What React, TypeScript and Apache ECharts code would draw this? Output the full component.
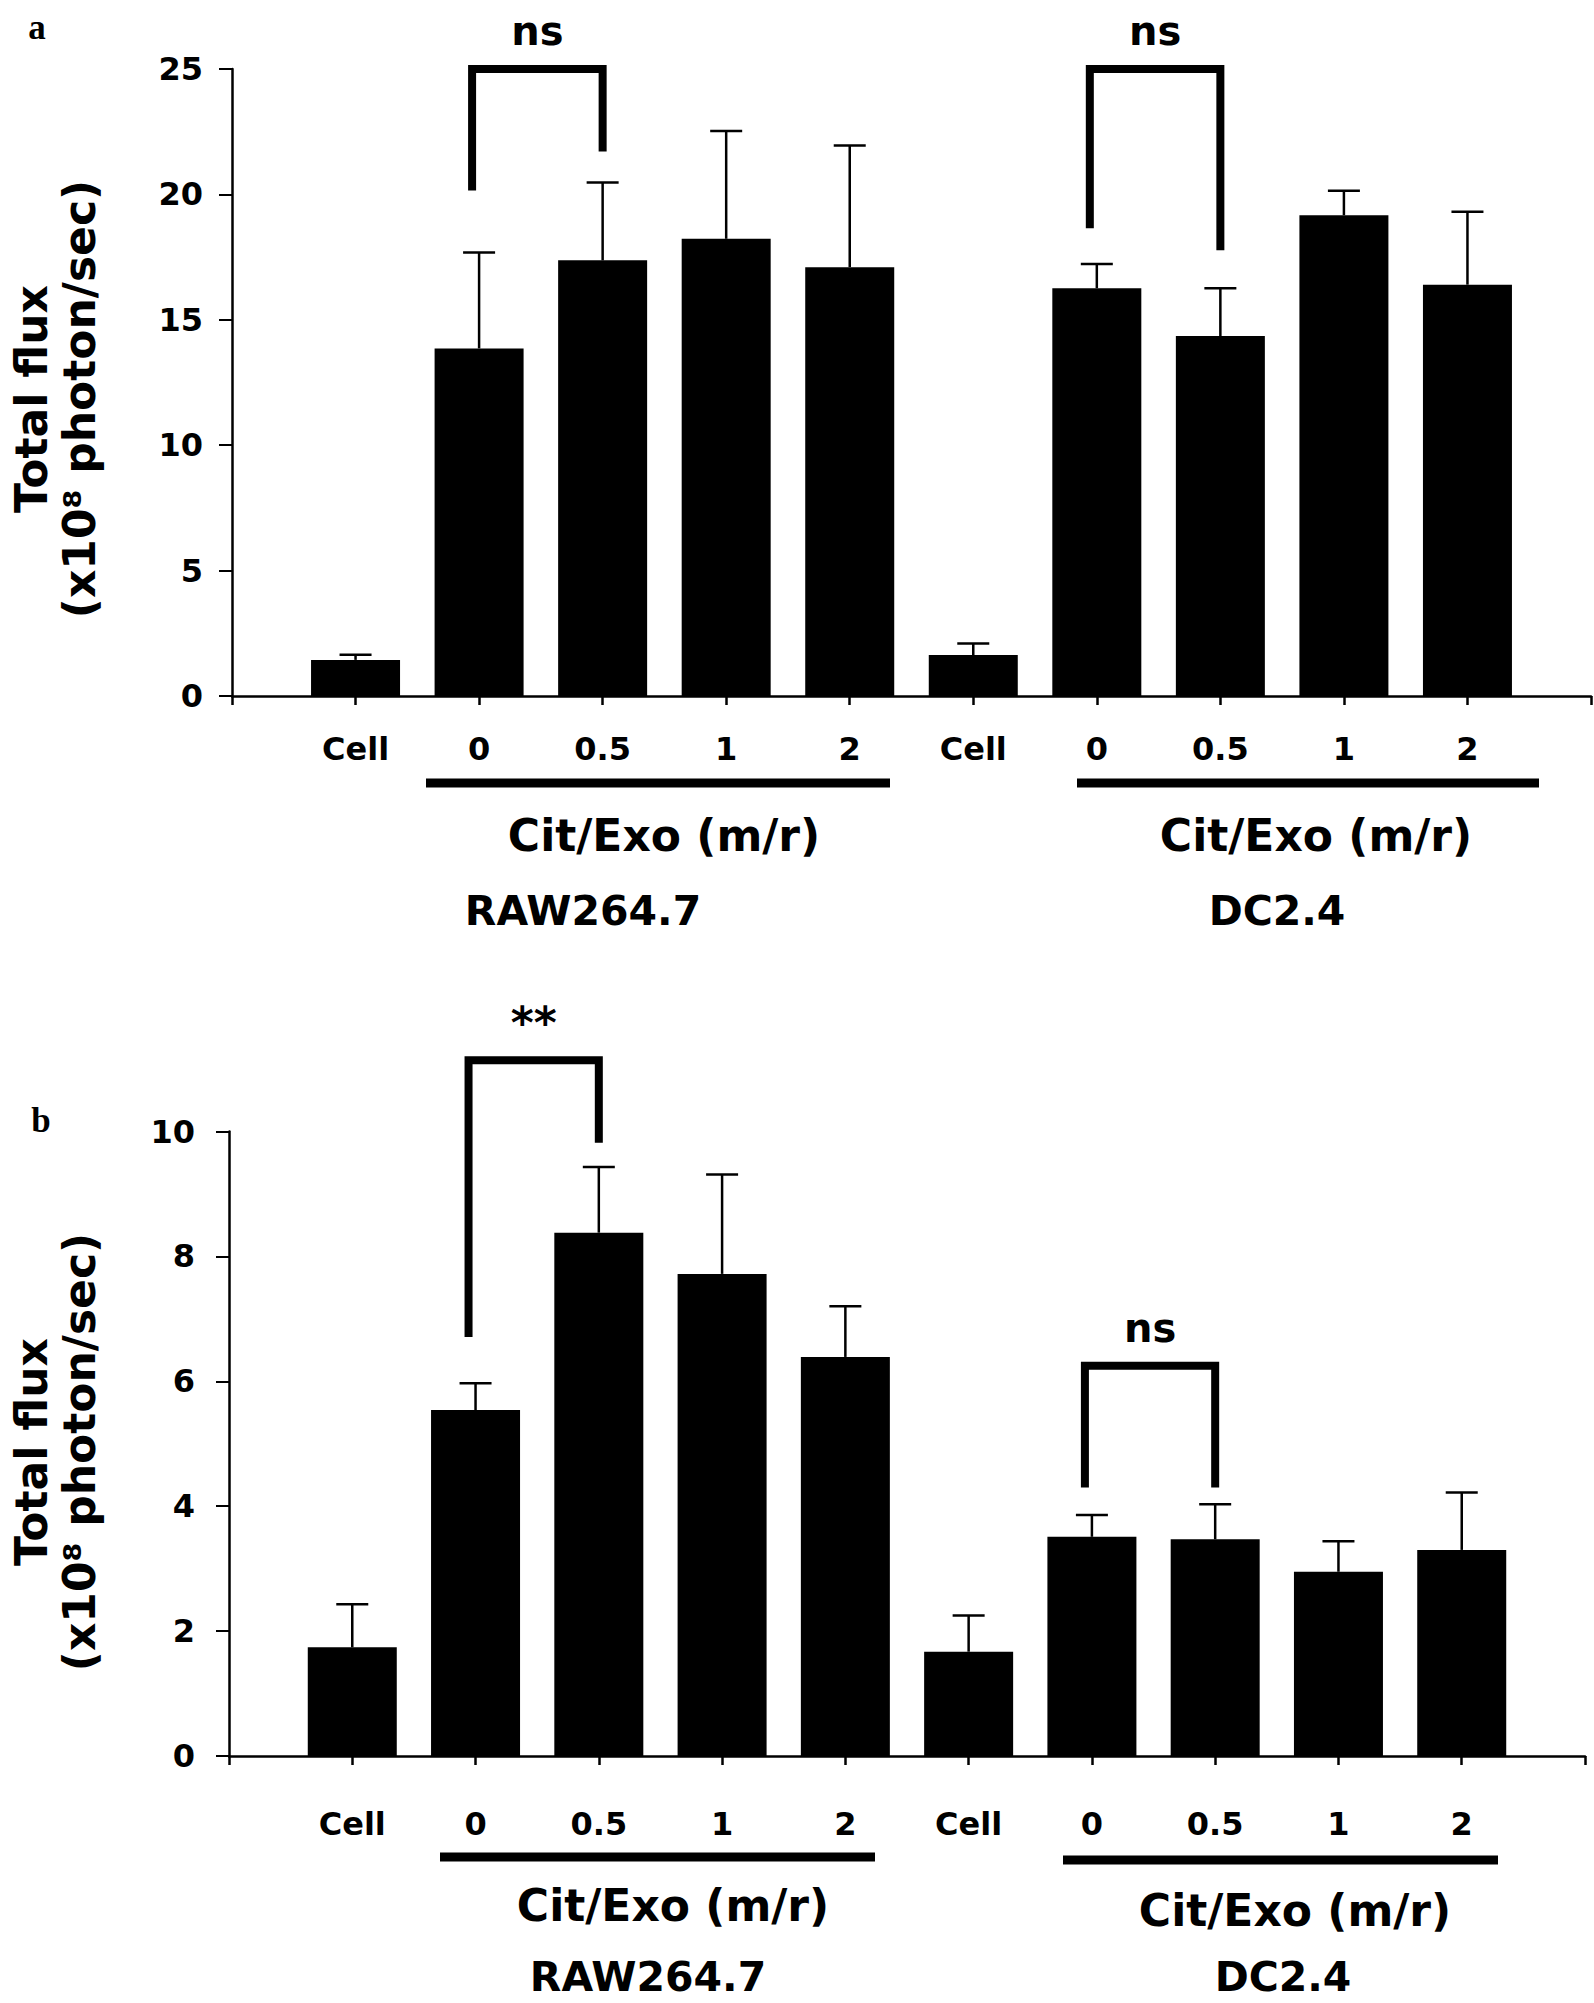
import { useEffect, useRef } from 'react';
import * as echarts from 'echarts';

const FONT = "'DejaVu Sans', Verdana, sans-serif";
const SERIF = "'Liberation Serif', 'Times New Roman', serif";

// x categories (empty slots at both ends of the axis)
const categories = ['', 'Cell', '0', '0.5', '1', '2', 'Cell', '0', '0.5', '1', '2', ''];

// Panel a: total flux (x10^8 photon/sec), mean and SD
const fluxA = [1.44, 13.86, 17.37, 18.23, 17.1, 1.63, 16.26, 14.35, 19.17, 16.4];
const sdA = [0.2, 3.82, 3.1, 4.3, 4.85, 0.46, 0.96, 1.91, 0.98, 2.91];

// Panel b
const fluxB = [1.74, 5.54, 8.38, 7.72, 6.39, 1.67, 3.51, 3.47, 2.95, 3.3];
const sdB = [0.69, 0.43, 1.05, 1.59, 0.81, 0.58, 0.35, 0.56, 0.49, 0.92];

// significance brackets: [fromIdx, toIdx, leftBottom, rightBottom, top]
const bracketsA = [
  [2, 3, 20.16, 21.71, 25.0],
  [7, 8, 18.65, 17.77, 25.0],
];
const bracketLabelsA = ['ns', 'ns'];
const bracketsB = [
  [2, 3, 6.71, 9.82, 11.14],
  [7, 8, 4.3, 4.3, 6.25],
];
const bracketLabelsB = ['**', 'ns'];

const yAxisTitle = 'Total flux\n(x10⁸ photon/sec)';
const treatmentLabel = 'Cit/Exo (m/r)';
const cellLines = ['RAW264.7', 'DC2.4'];

function barData(vals: number[]) {
  return [null, ...vals, null];
}
function errData(vals: number[], sds: number[]) {
  return vals.map((v, i) => [i + 1, v, sds[i]]);
}

function errRender(_p: any, api: any) {
  const x = api.value(0);
  const m = api.value(1);
  const sd = api.value(2);
  const p0 = api.coord([x, m]);
  const p1 = api.coord([x, m + sd]);
  const st = { stroke: '#000', lineWidth: 2.5 };
  return {
    type: 'group',
    children: [
      { type: 'line', shape: { x1: p0[0], y1: p0[1], x2: p1[0], y2: p1[1] }, style: st },
      { type: 'line', shape: { x1: p1[0] - 16, y1: p1[1], x2: p1[0] + 16, y2: p1[1] }, style: st },
    ],
  };
}

function bracketRender(labels: string[]) {
  return (params: any, api: any) => {
    const a = api.value(0);
    const b = api.value(1);
    const lb = api.value(2);
    const rb = api.value(3);
    const top = api.value(4);
    const pl = api.coord([a, lb]);
    const pr = api.coord([b, rb]);
    const pt = api.coord([a, top]);
    const lx = pl[0] - 7;
    const rx = pr[0];
    const label = labels[params.dataIndex];
    return {
      type: 'group',
      children: [
        {
          type: 'polyline',
          shape: { points: [[lx, pl[1]], [lx, pt[1]], [rx, pt[1]], [rx, pr[1]]] },
          style: { stroke: '#000', lineWidth: 8, fill: null, lineJoin: 'miter', lineCap: 'butt' },
        },
        {
          type: 'text',
          x: (lx + rx) / 2,
          y: pt[1] - 38,
          style: {
            text: label,
            align: 'center',
            verticalAlign: 'middle',
            fontSize: label === '**' ? 44 : 40,
            fontWeight: 'bold',
            fontFamily: FONT,
            fill: '#000',
          },
        },
      ],
    };
  };
}

function xAxisCfg(gridIndex: number, margin: number) {
  return {
    type: 'category',
    gridIndex,
    data: categories,
    boundaryGap: false,
    axisLine: { lineStyle: { color: '#000', width: 2.5 } },
    axisTick: { show: true, interval: 0, length: 9, lineStyle: { color: '#000', width: 2.5 } },
    axisLabel: {
      interval: 0,
      margin,
      color: '#000',
      fontSize: 32,
      fontWeight: 'bold',
      fontFamily: FONT,
    },
    splitLine: { show: false },
  };
}

function yAxisCfg(gridIndex: number, max: number, interval: number, margin: number) {
  return {
    type: 'value',
    gridIndex,
    min: 0,
    max,
    interval,
    axisLine: { show: true, lineStyle: { color: '#000', width: 2.5 } },
    axisTick: { show: true, length: 13, lineStyle: { color: '#000', width: 2 } },
    axisLabel: { margin, color: '#000', fontSize: 32, fontWeight: 'bold', fontFamily: FONT },
    splitLine: { show: false },
  };
}

function txt(text: string, x: number, y: number, fontSize: number, extra: any = {}) {
  return {
    type: 'text',
    x,
    y,
    ...extra,
    style: {
      text,
      align: 'center',
      verticalAlign: 'middle',
      fontSize,
      fontWeight: 'bold',
      fontFamily: FONT,
      fill: '#000',
      ...(extra.style || {}),
    },
  };
}

function hbar(x1: number, x2: number, y: number) {
  return { type: 'rect', shape: { x: x1, y: y - 4.5, width: x2 - x1, height: 9 }, style: { fill: '#000' } };
}

export default function App() {
  const ref = useRef<HTMLDivElement>(null);
  useEffect(() => {
    if (!ref.current) return;
    const chart = echarts.init(ref.current, undefined, { renderer: 'svg' });
    chart.setOption({
      animation: false,
      backgroundColor: '#fff',
      textStyle: { fontFamily: FONT },
      grid: [
        { left: 232, top: 69, width: 1361, height: 627 },
        { left: 229, top: 1131.5, width: 1356, height: 624.5 },
      ],
      xAxis: [xAxisCfg(0, 37), xAxisCfg(1, 52)],
      yAxis: [yAxisCfg(0, 25, 5, 29), yAxisCfg(1, 10, 2, 34)],
      series: [
        {
          type: 'bar',
          xAxisIndex: 0,
          yAxisIndex: 0,
          data: barData(fluxA),
          barWidth: 89,
          itemStyle: { color: '#000' },
        },
        {
          type: 'custom',
          xAxisIndex: 0,
          yAxisIndex: 0,
          data: errData(fluxA, sdA),
          renderItem: errRender,
          z: 3,
        },
        {
          type: 'custom',
          xAxisIndex: 0,
          yAxisIndex: 0,
          data: bracketsA,
          renderItem: bracketRender(bracketLabelsA),
          clip: false,
          z: 4,
        },
        {
          type: 'bar',
          xAxisIndex: 1,
          yAxisIndex: 1,
          data: barData(fluxB),
          barWidth: 89,
          itemStyle: { color: '#000' },
        },
        {
          type: 'custom',
          xAxisIndex: 1,
          yAxisIndex: 1,
          data: errData(fluxB, sdB),
          renderItem: errRender,
          z: 3,
        },
        {
          type: 'custom',
          xAxisIndex: 1,
          yAxisIndex: 1,
          data: bracketsB,
          renderItem: bracketRender(bracketLabelsB),
          clip: false,
          z: 4,
        },
      ],
      graphic: [
        // panel letters
        txt('a', 37, 27, 35, { style: { fontFamily: SERIF } }),
        txt('b', 41, 1120, 35, { style: { fontFamily: SERIF } }),
        // y-axis titles
        txt(yAxisTitle, 55, 399, 44, { rotation: Math.PI / 2, style: { lineHeight: 48 } }),
        txt(yAxisTitle, 55, 1452, 44, { rotation: Math.PI / 2, style: { lineHeight: 48 } }),
        // panel a group annotations
        hbar(426, 890, 783),
        hbar(1077, 1539, 783),
        txt(treatmentLabel, 664, 835, 44),
        txt(treatmentLabel, 1316, 835, 44),
        txt(cellLines[0], 583, 911, 41),
        txt(cellLines[1], 1277, 911, 41),
        // panel b group annotations
        hbar(440, 875, 1857),
        hbar(1063, 1498, 1860),
        txt(treatmentLabel, 673, 1905, 44),
        txt(treatmentLabel, 1295, 1910, 44),
        txt(cellLines[0], 648, 1977, 41),
        txt(cellLines[1], 1283, 1977, 41),
      ],
    });
    return () => chart.dispose();
  }, []);
  return (
    <div
      ref={ref}
      style={{ position: 'absolute', left: 0, top: 0, width: 1594, height: 2003, background: '#fff' }}
    />
  );
}
